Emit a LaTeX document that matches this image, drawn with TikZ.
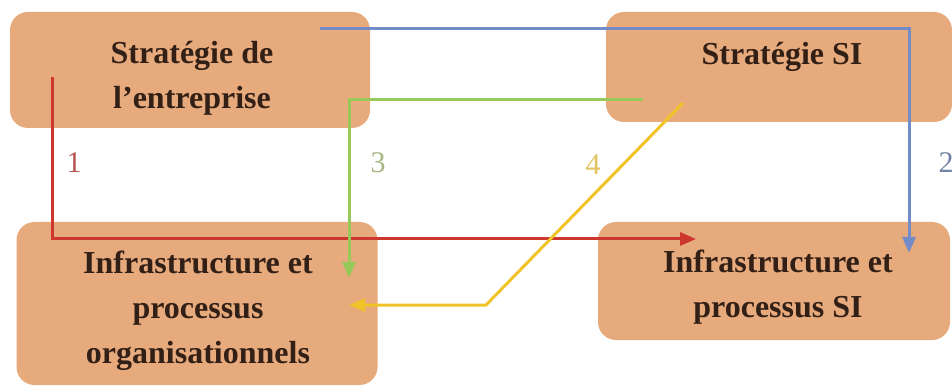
\documentclass[tikz,border=0pt]{standalone}
\usepackage{fontspec}
\setmainfont{Liberation Serif}
\usetikzlibrary{arrows.meta}
\definecolor{boxfill}{RGB}{231,170,125}
\definecolor{boxtext}{RGB}{50,32,22}
\definecolor{cred}{RGB}{205,55,45}
\definecolor{cblue}{RGB}{115,140,200}
\definecolor{cgreen}{RGB}{150,200,90}
\definecolor{cyellow}{RGB}{240,195,40}
\definecolor{lred}{RGB}{180,85,80}
\definecolor{lblue}{RGB}{115,130,165}
\definecolor{lgreen}{RGB}{165,180,130}
\definecolor{lyellow}{RGB}{225,195,95}
\tikzset{
  box/.style={fill=boxfill, draw=none, rounded corners=18pt, inner sep=0pt},
  boxlabel/.style={text=boxtext, align=center, inner sep=0pt, font=\fontsize{32}{45}\selectfont\bfseries},
  numlabel/.style={inner sep=0pt, font=\fontsize{30}{30}\selectfont},
  conn/.style={line width=3pt, -{Triangle[length=16pt,width=13pt]}}
}
\begin{document}
\begin{tikzpicture}[x=1pt,y=-1pt]
\useasboundingbox (0,0) rectangle (952,387);
% boxes
\node[box, minimum width=360pt, minimum height=116pt] (b1) at (190,70) {};
\node[box, minimum width=346pt, minimum height=110pt] (b2) at (779,67) {};
\node[box, minimum width=361pt, minimum height=163pt] (b3) at (197,303.5) {};
\node[box, minimum width=352pt, minimum height=118pt] (b4) at (774,281) {};
% texts
\node[boxlabel] (t1) at (192,78) {Stratégie de\\l’entreprise};
\node[boxlabel] (t2) at (782,57) {Stratégie SI};
\node[boxlabel] (t3) at (198,311) {Infrastructure et\\processus\\organisationnels};
\node[boxlabel] (t4) at (778,287) {Infrastructure et\\processus SI};
% connector points
\coordinate (r0) at (52,77);
\coordinate (r1) at (696,239);
\coordinate (bl0) at (320,29);
\coordinate (bl1) at (909,253);
\coordinate (g0) at (643,100);
\coordinate (g1) at (349,278);
\coordinate (y0) at (683,103);
\coordinate (ym) at (486,305);
\coordinate (y1) at (349,305);
% connectors
\draw[conn, cred] (r0) |- (r1);
\draw[conn, cblue] (bl0) -| (bl1);
\draw[conn, cgreen] (g0) -| (g1);
\draw[conn, cyellow] (y0) -- (ym) -- (y1);
% numbers
\node[numlabel, text=lred] (n1) at (74,163) {1};
\node[numlabel, text=lblue] (n2) at (946,163) {2};
\node[numlabel, text=lgreen] (n3) at (378,163) {3};
\node[numlabel, text=lyellow] (n4) at (593,165) {4};
\end{tikzpicture}
\end{document}
